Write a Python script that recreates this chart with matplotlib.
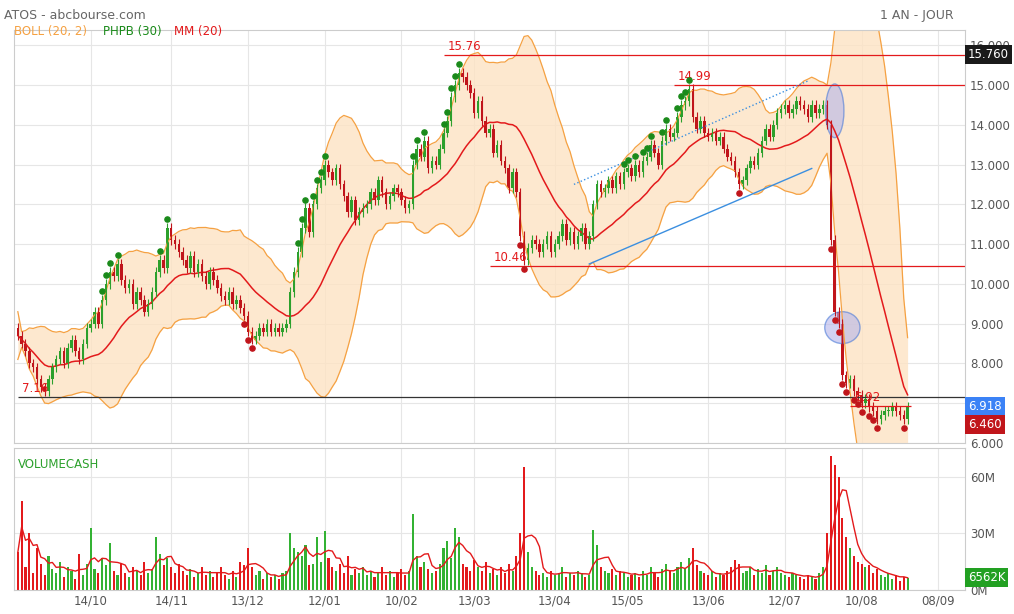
import numpy as np
import pandas as pd
import matplotlib.pyplot as plt
from matplotlib.patches import Ellipse

# daily closes
closes = [
    8.7, 8.5, 8.3, 8.0, 7.9, 7.6, 7.4, 7.3, 7.6, 7.9,
    8.1, 8.3, 8.0, 8.4, 8.6, 8.3, 8.1, 8.5, 8.9, 9.0,
    9.3, 9.0, 9.6, 10.0, 10.3, 10.2, 10.5, 10.1, 9.9, 10.0,
    9.5, 9.8, 9.6, 9.3, 9.5, 9.8, 10.3, 10.6, 10.4, 11.4,
    11.1, 11.0, 10.8, 10.6, 10.4, 10.7, 10.3, 10.5, 10.2, 10.0,
    10.3, 10.1, 9.9, 9.7, 9.6, 9.8, 9.5, 9.6, 9.4, 9.2,
    8.8, 8.6, 8.7, 8.9, 8.8, 9.0, 8.8, 8.9, 8.8, 8.9,
    9.0, 9.8, 10.3, 10.8, 11.4, 11.9, 11.3, 12.0, 12.4, 12.6,
    13.0, 12.8, 12.6, 12.9, 12.5, 12.2, 11.8, 12.1, 11.6, 11.8,
    11.9, 12.0, 12.3, 12.1, 12.6, 12.3, 12.0, 12.2, 12.4, 12.3,
    12.1, 11.9, 12.0, 13.0, 13.4, 13.2, 13.6, 12.9, 13.1, 13.0,
    13.4, 13.8, 14.1, 14.7, 15.0, 15.3, 15.2, 15.0, 14.8, 14.3,
    14.6, 14.1, 13.8, 13.9, 13.3, 13.5, 13.1, 12.9, 12.4, 12.8,
    12.3, 11.2, 10.6, 10.9, 11.1, 11.0, 10.8, 11.0, 11.2, 10.8,
    11.0, 11.2, 11.5, 11.1, 11.3, 11.0, 11.2, 11.4, 11.0, 11.2,
    12.0, 12.5, 12.3, 12.4, 12.6, 12.4, 12.7, 12.5, 12.8, 12.9,
    12.7, 13.0, 12.8, 13.1, 13.2, 13.5, 13.3, 13.0, 13.6, 13.9,
    13.7, 13.8, 14.2, 14.5, 14.6, 14.9, 14.2, 13.9, 14.1, 13.8,
    13.7, 13.8, 13.6, 13.7, 13.4, 13.2, 13.1, 12.8, 12.5, 12.6,
    12.9, 13.1, 13.0, 13.3, 13.6, 13.9, 13.7, 14.0, 14.3, 14.4,
    14.5, 14.3, 14.4, 14.6, 14.5, 14.4, 14.2, 14.5, 14.3, 14.4,
    14.5, 14.0, 11.1, 9.3, 9.0, 7.7, 7.5, 7.6, 7.3, 7.2,
    7.0, 7.1, 6.9, 6.8, 6.6, 6.7, 6.8, 6.8, 6.9, 6.8, 6.7, 6.6, 6.92,
]
first_open = 8.9

# daily volume in millions
volumes = [
    20, 47, 12, 30, 9, 22, 14, 8, 18, 11,
    9, 15, 7, 12, 10, 6, 19, 8, 14, 33,
    11, 9, 17, 13, 25, 10, 8, 14, 9, 7,
    12, 10, 8, 15, 9, 11, 28, 19, 13, 17,
    12, 9, 14, 10, 8, 11, 7, 9, 12, 8,
    10, 7, 9, 12, 8, 6, 10, 7, 15, 13,
    22, 12, 8, 10, 6, 9, 7, 8, 6, 9,
    10, 30, 22, 20, 18, 24, 13, 14, 28, 15,
    31, 17, 12, 10, 14, 9, 18, 8, 11, 9,
    12, 8, 10, 7, 9, 12, 8, 10, 7, 9,
    11, 8, 10, 40, 18, 12, 15, 11, 9, 10,
    14, 22, 26, 17, 33, 28, 14, 12, 10, 16,
    12, 10, 15, 9, 11, 8, 12, 9, 14, 10,
    18, 30, 65, 20, 12, 10, 8, 9, 7, 10,
    8, 9, 12, 7, 9, 8, 10, 9, 7, 8,
    32, 24, 12, 10, 9, 11, 8, 10, 9, 7,
    8, 9, 7, 10, 8, 12, 9, 7, 11, 14,
    10, 9, 12, 15, 11, 17, 22, 13, 10, 9,
    8, 10, 7, 9, 8, 10, 12, 16, 14, 9,
    10, 12, 8, 11, 9, 13, 8, 10, 12, 9,
    8, 7, 9, 8, 7, 6, 8, 7, 6, 9,
    12, 30, 71, 66, 60, 38, 28, 22, 18, 15,
    14, 12, 13, 9, 11, 8, 7, 9, 6, 8, 5, 7, 6.5,
]

tick_days = [19, 40, 60, 80, 100, 119, 140, 159, 180, 200, 220, 240]
tick_labels = ['14/10', '14/11', '13/12', '12/01', '10/02', '13/03',
               '13/04', '15/05', '13/06', '12/07', '10/08', '08/09']

levels = [15.76, 14.99, 10.46, 7.16, 6.918]
level_starts = [111, 171, 123, 0, 217]
level_texts = ['15.76', '14.99', '10.46', '7.16', '6.92']
trend_solid = ([149, 207], [10.5, 12.9])
trend_dotted = ([145, 206], [12.5, 15.1])
circles = [(213, 14.35, 4.8, 1.35), (215, 8.9, 9.2, 0.8)]

df = pd.DataFrame({'close': closes, 'vol': volumes})
df['open'] = df['close'].shift(1).fillna(first_open)
hi = df[['open', 'close']].max(axis=1)
lo = df[['open', 'close']].min(axis=1)
df['high'] = hi + 0.12
df['low'] = lo - 0.12
mm = df['close'].rolling(20, min_periods=1).mean()
sd = df['close'].rolling(20, min_periods=2).std(ddof=0).fillna(0.3)
up, dn = mm + 2 * sd, mm - 2 * sd
vol_ma = df['vol'].rolling(5, min_periods=1).mean()
x = np.arange(len(df))

GREEN, RED, ORANGE = '#2ca02c', '#e31a1c', '#f5a142'

fig = plt.figure(figsize=(10.14, 6.14), dpi=100)
ax = fig.add_axes([0.0138, 0.2785, 0.938, 0.6726])
axv = fig.add_axes([0.0138, 0.039, 0.938, 0.231])

for a in (ax, axv):
    a.set_xlim(-1, 247)
    a.set_xticks(tick_days)
    a.grid(True, color='#e6e6e6', linewidth=0.8)
    a.set_axisbelow(True)
    a.yaxis.tick_right()
    a.tick_params(length=0, labelsize=8.5, colors='#555555')
    for s in a.spines.values():
        s.set_color('#cccccc')

# price panel
ax.fill_between(x, dn, up, color='#fde3c4', alpha=0.8, linewidth=0)
ax.plot(x, up, color=ORANGE, lw=0.9)
ax.plot(x, dn, color=ORANGE, lw=0.9)
ax.plot(x, mm, color=RED, lw=1.1)
colors = np.where(df['close'] >= df['open'], GREEN, '#c0151b')
ax.vlines(x, df['low'], df['high'], colors=colors, lw=0.8)
ax.bar(x, (df['close'] - df['open']).abs().clip(lower=0.03), bottom=lo,
       width=0.65, color=colors)

hh = df['high'].rolling(30, min_periods=1).max()
ll = df['low'].rolling(30, min_periods=1).min()
newhi = (df['high'] >= hh) & (df['high'] > df['high'].shift(1).fillna(99))
newlo = (df['low'] <= ll) & (df['low'] < df['low'].shift(1).fillna(0))
ax.scatter(x[newhi & (x > 20)], df['high'][newhi & (x > 20)] + 0.1, s=14, color='#1a8a1a', zorder=5)
ax.scatter(x[newlo & (x > 20)], df['low'][newlo & (x > 20)] - 0.1, s=14, color='#c0151b', zorder=5)

for lv, st, tx in zip(levels, level_starts, level_texts):
    col = '#333333' if lv == 7.16 else RED
    ax.hlines(lv, st, 233 if lv == 6.918 else 247, color=col, lw=0.9)
    ax.text(st + 1, lv + 0.05, tx, color=RED, fontsize=8.5, va='bottom')
ax.plot(*trend_solid, color='#3b8fe0', lw=1)
ax.plot(*trend_dotted, color='#3b8fe0', lw=1, ls=':')
for cx, cy, w, h in circles:
    ax.add_patch(Ellipse((cx, cy), w, h, facecolor='#b5b5ea', alpha=0.6,
                         edgecolor='#4a7ad8', lw=1))

ax.set_ylim(6.0, 16.38)
ax.set_yticks(np.arange(6, 16.5, 1))
ax.set_yticklabels(['%.3f' % v for v in np.arange(6, 16.5, 1)])
ax.set_xticklabels([])
for lv, fc in [(15.76, '#1a1a1a'), (6.918, '#3b82f6'), (6.46, '#c0151b')]:
    ax.text(1.003, (lv - 6.0) / 10.38, '%.3f' % lv, transform=ax.transAxes,
            color='white', fontsize=8.5, va='center', ha='left',
            bbox=dict(boxstyle='square,pad=0.25', fc=fc, ec='none'))

# volume panel
axv.bar(x, df['vol'], width=0.55, color=np.where(colors == GREEN, '#33b233', '#e31a1c'))
axv.plot(x, vol_ma, color=RED, lw=1)
axv.set_ylim(0, 75)
axv.set_yticks([0, 30, 60])
axv.set_yticklabels(['0M', '30M', '60M'])
axv.set_xticklabels(tick_labels)
axv.text(1.003, 6.5 / 75, '6562K', transform=axv.transAxes, color='white',
         fontsize=8.5, va='center', bbox=dict(boxstyle='square,pad=0.25', fc='#22a022', ec='none'))
axv.text(0.004, 0.93, 'VOLUMECASH', transform=axv.transAxes, color='#2ca02c', fontsize=8.5, va='top')

fig.text(0.004, 0.985, 'ATOS - abcbourse.com', fontsize=9, color='#666666', va='top')
fig.text(0.94, 0.985, '1 AN - JOUR', fontsize=9, color='#666666', va='top', ha='right')
fig.text(0.014, 0.948, 'BOLL (20, 2)', fontsize=8.5, color=ORANGE, va='center')
fig.text(0.102, 0.948, 'PHPB (30)', fontsize=8.5, color='#1a8a1a', va='center')
fig.text(0.172, 0.948, 'MM (20)', fontsize=8.5, color=RED, va='center')

fig.savefig('out.png', dpi=100, facecolor='white')
